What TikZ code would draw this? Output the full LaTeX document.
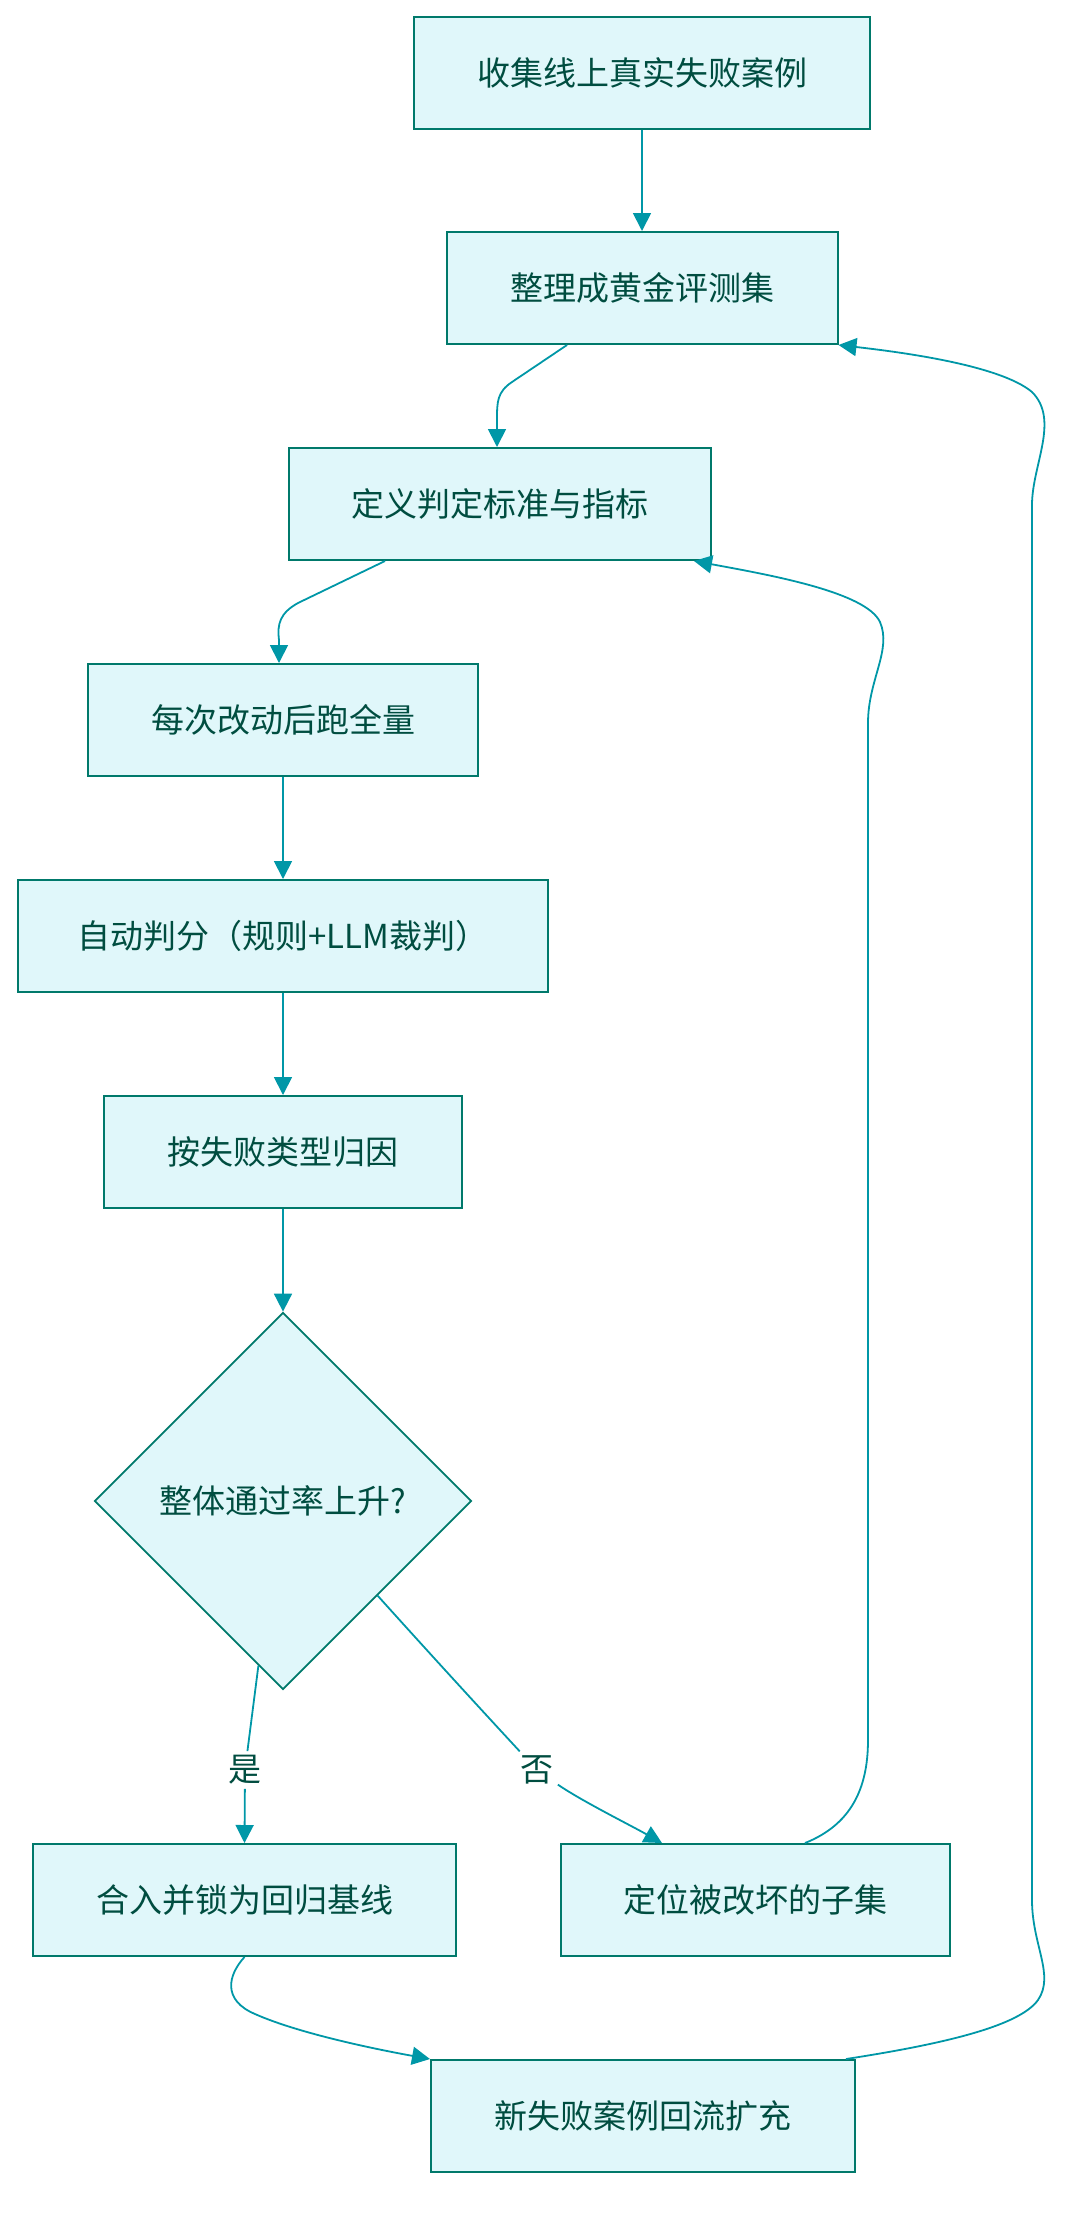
\documentclass[tikz,border=0pt]{standalone}
\usepackage{fontspec}
\newfontfamily\cjk{Noto Sans CJK SC}
\usetikzlibrary{arrows.meta,shapes.geometric,calc}

\definecolor{boxfill}{HTML}{E0F7FA}
\definecolor{boxline}{HTML}{00796B}
\definecolor{boxtext}{HTML}{004D40}
\definecolor{flowline}{HTML}{0097A7}

\tikzset{
  stepbox/.style={draw=boxline,fill=boxfill,line width=1pt,text=boxtext,
    minimum height=56pt,inner sep=0pt,font=\cjk\fontsize{16.5}{20}\selectfont},
  checkbox/.style={diamond,aspect=1,draw=boxline,fill=boxfill,line width=0.9pt,
    text=boxtext,minimum width=188.5pt,minimum height=188.5pt,inner sep=0pt,
    font=\cjk\fontsize{16.5}{20}\selectfont},
  flowlabel/.style={fill=white,text=boxtext,inner sep=2pt,
    font=\cjk\fontsize{16.5}{20}\selectfont},
  flow/.style={draw=flowline,line width=0.9pt,-{Triangle[length=9pt,width=9pt]}}
}

\begin{document}
\begin{tikzpicture}[x=0.5pt,y=-0.5pt]%[line cap=round,line join=round]
\useasboundingbox (0,0) rectangle (1080,2223);

\node[stepbox,minimum width=228pt] (collect) at (642,72.5) {收集线上真实失败案例};
\node[stepbox,minimum width=195.5pt] (golden) at (642,288) {整理成黄金评测集};
\node[stepbox,minimum width=211pt] (criteria) at (500,504) {定义判定标准与指标};
\node[stepbox,minimum width=195pt] (rerun) at (283,720) {每次改动后跑全量};
\node[stepbox,minimum width=265pt] (judge) at (283,936) {自动判分（规则+LLM裁判）};
\node[stepbox,minimum width=179pt] (cause) at (283,1152) {按失败类型归因};
\node[checkbox] (check) at (283,1501) {整体通过率上升?};
\node[stepbox,minimum width=211.5pt] (merge) at (244.5,1900) {合入并锁为回归基线};
\node[stepbox,minimum width=194.5pt] (locate) at (755.5,1900) {定位被改坏的子集};
\node[stepbox,minimum width=212pt] (expand) at (643,2116) {新失败案例回流扩充};

\node[flowlabel] (yes) at (245,1770) {是};
\node[flowlabel] (no) at (537,1770) {否};

\draw[flow] (collect) -- (golden);
\draw[flow] ($(golden.south)+(-75,0)$) -- (512,382)
  .. controls (497,392) and (497,402) .. (497,420) -- ($(criteria.north)+(-3,0)$);
\draw[flow] ($(criteria.south)+(-115,0)$) -- (298,603)
  .. controls (280,613) and (277,624) .. (279,640) -- ($(rerun.north)+(-4,0)$);
\draw[flow] (rerun) -- (judge);
\draw[flow] (judge) -- (cause);
\draw[flow] (cause.south) -- (check.north);

\draw[flow] ($(check.south)!0.13!(check.west)$) -- (yes) -- (merge.north);
\draw[flow] (check.south east) .. controls (440,1665) and (500,1730) .. (no)
  .. controls (580,1800) and (630,1825) .. ($(locate.north)+(-93.5,0)$);

\draw[flow] ($(locate.north)+(49.5,0)$) .. controls (850,1825) and (868,1790) .. (868,1740)
  -- (868,723) .. controls (868,680) and (892,650) .. (880,622)
  .. controls (866,592) and (770,575) .. ($(criteria.south)+(194,0)$);
\draw[flow] (merge.south) .. controls (228,1975) and (222,2000) .. (255,2014)
  .. controls (300,2034) and (380,2050) .. (expand.north west);
\draw[flow] ($(expand.north)+(203,0)$) .. controls (950,2043) and (1020,2025) .. (1038,2000)
  .. controls (1055,1975) and (1032,1945) .. (1032,1900)
  -- (1032,505) .. controls (1032,465) and (1060,420) .. (1032,392)
  .. controls (1000,365) and (900,352) .. (golden.south east);
\end{tikzpicture}
\end{document}
